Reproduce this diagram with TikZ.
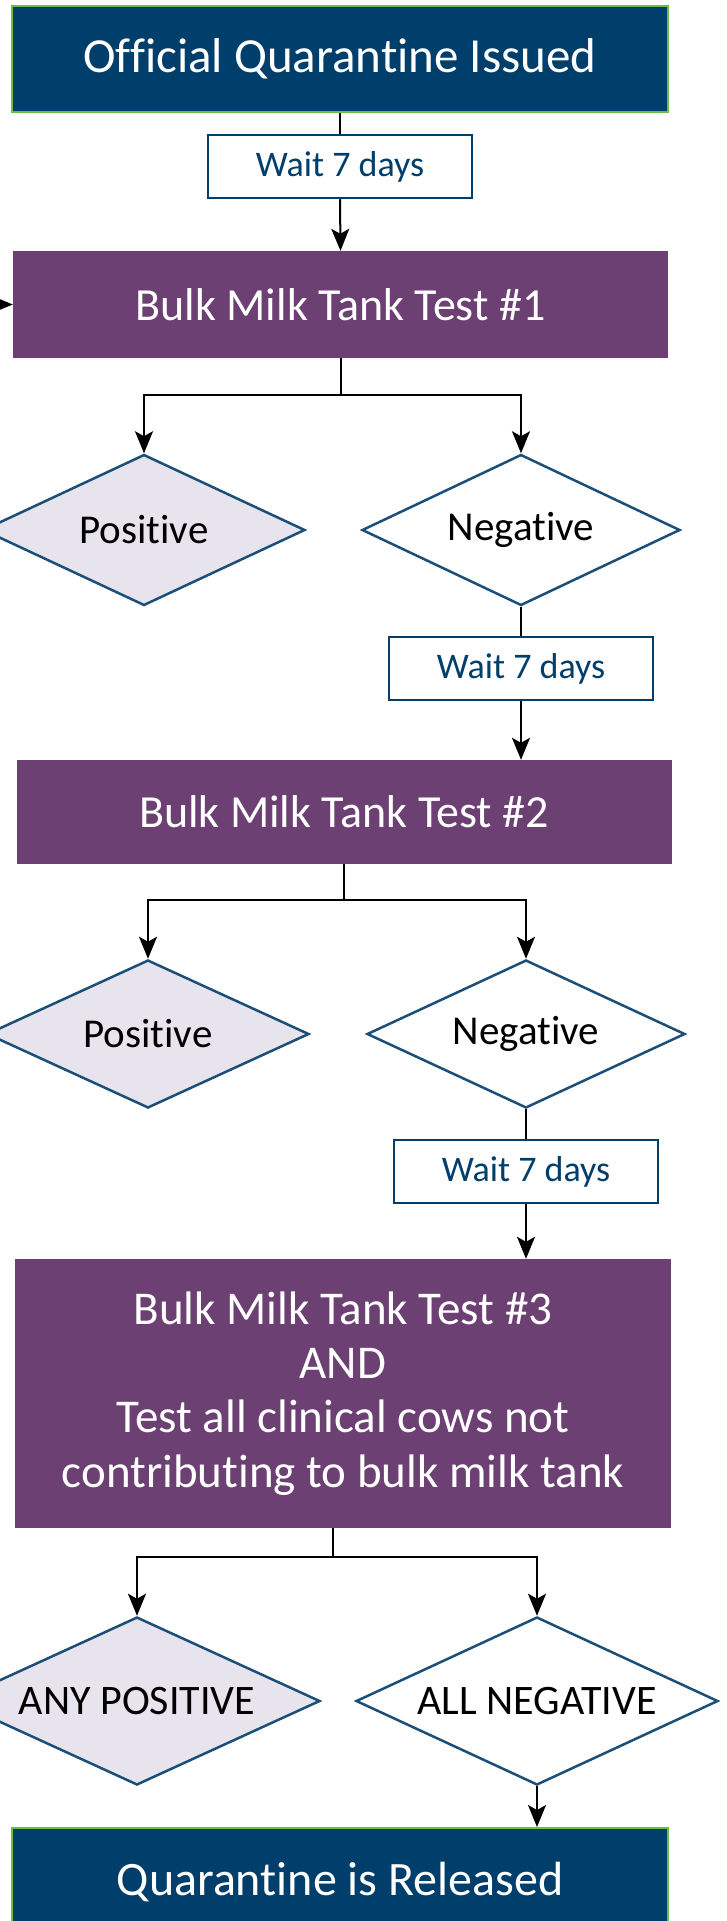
\documentclass[tikz,border=0pt]{standalone}
\usepackage{fontspec}
\setmainfont{Carlito}[RawFeature={-liga;-clig;-dlig}]
\usetikzlibrary{shapes.geometric,arrows.meta}
\definecolor{navy}{HTML}{003E6B}
\definecolor{plum}{HTML}{6C4073}
\definecolor{lav}{HTML}{E8E4EE}
\definecolor{grn}{HTML}{6CBE45}
\definecolor{dline}{HTML}{1B4E78}
\begin{document}
\begin{tikzpicture}[x=1pt,y=-1pt,
  endbox/.style={rectangle, fill=navy, draw=grn, line width=2pt, text=white, inner sep=0pt, font=\fontsize{49}{58}\selectfont, minimum width=656pt, minimum height=106pt},
  testbox/.style={rectangle, fill=plum, text=white, inner sep=0pt, align=center},
  waitbox/.style={rectangle, fill=white, draw=navy, line width=2.5pt, text=navy, inner sep=0pt, font=\fontsize{36}{43}\selectfont, minimum width=264pt, minimum height=63pt},
  dec/.style={diamond, draw=dline, line width=2.5pt, inner sep=0pt, text=black, aspect=2.1},
  posd/.style={dec, fill=lav},
  negd/.style={dec, fill=white},
  conn/.style={line width=2pt, draw=black},
  arr/.style={conn, -{Stealth[length=22pt,width=18pt,inset=5pt]}},
]
\useasboundingbox (0,0) rectangle (727,1921);
\clip (0,0) rectangle (727,1921);

% row 1
\node[endbox] (off) at (340,59) {Official Quarantine Issued};
\node[waitbox] (w1) at (340,166.5) {Wait 7 days};
\node[testbox, minimum width=655pt, minimum height=107pt, font=\fontsize{46}{55}\selectfont] (t1) at (340.5,304.5) {Bulk Milk Tank Test \#1};
\node[posd, minimum width=322pt, minimum height=151pt, font=\fontsize{41}{49}\selectfont] (p1) at (144,530) {Positive};
\node[negd, minimum width=318pt, minimum height=151pt, font=\fontsize{41}{49}\selectfont] (n1) at (521,530) {Negative};

% row 2
\node[waitbox] (w2) at (521,668.5) {Wait 7 days};
\node[testbox, minimum width=655pt, minimum height=104pt, font=\fontsize{46}{55}\selectfont] (t2) at (344,812) {Bulk Milk Tank Test \#2};
\node[posd, minimum width=322pt, minimum height=148pt, font=\fontsize{41}{49}\selectfont] (p2) at (148,1034) {Positive};
\node[negd, minimum width=318pt, minimum height=148pt, font=\fontsize{41}{49}\selectfont] (n2) at (526,1034) {Negative};

% row 3
\node[waitbox] (w3) at (526,1171.5) {Wait 7 days};
\node[testbox, minimum width=656pt, minimum height=269pt, font=\fontsize{47}{54.3}\selectfont] (t3) at (343,1393.5) {Bulk Milk Tank Test \#3\\AND\\Test all clinical cows not\\contributing to bulk milk tank};
\node[posd, minimum width=366pt, minimum height=168pt, font=\fontsize{42}{50}\selectfont] (p3) at (137,1701) {ANY POSITIVE};
\node[negd, minimum width=362pt, minimum height=168pt, font=\fontsize{42}{50}\selectfont] (n3) at (537,1701) {ALL NEGATIVE};

\node[endbox, font=\fontsize{48}{58}\selectfont, minimum height=107pt] (rel) at (340,1881.5) {Quarantine is Released};

% connectors
\coordinate (lin) at (-40,304.5);
\draw[arr] (lin) -- (t1.west);

\draw[conn] (off.south) -- (w1.north);
\draw[arr] (w1.south) -- (t1.north);

\coordinate (b1) at (340.5,395);
\draw[conn] (t1.south) -- (b1);
\draw[arr] (b1) -| (p1.north);
\draw[arr] (b1) -| (n1.north);

\draw[conn] (n1.south) -- (w2.north);
\draw[arr] (w2.south) -- (w2.south |- t2.north);

\coordinate (b2) at (344,900);
\draw[conn] (t2.south) -- (b2);
\draw[arr] (b2) -| (p2.north);
\draw[arr] (b2) -| (n2.north);

\draw[conn] (n2.south) -- (w3.north);
\draw[arr] (w3.south) -- (w3.south |- t3.north);

\coordinate (b3) at (333,1557);
\draw[conn] (b3 |- t3.south) -- (b3);
\draw[arr] (b3) -| (p3.north);
\draw[arr] (b3) -| (n3.north);

\draw[arr] (n3.south) -- (n3.south |- rel.north);
\end{tikzpicture}
\end{document}
